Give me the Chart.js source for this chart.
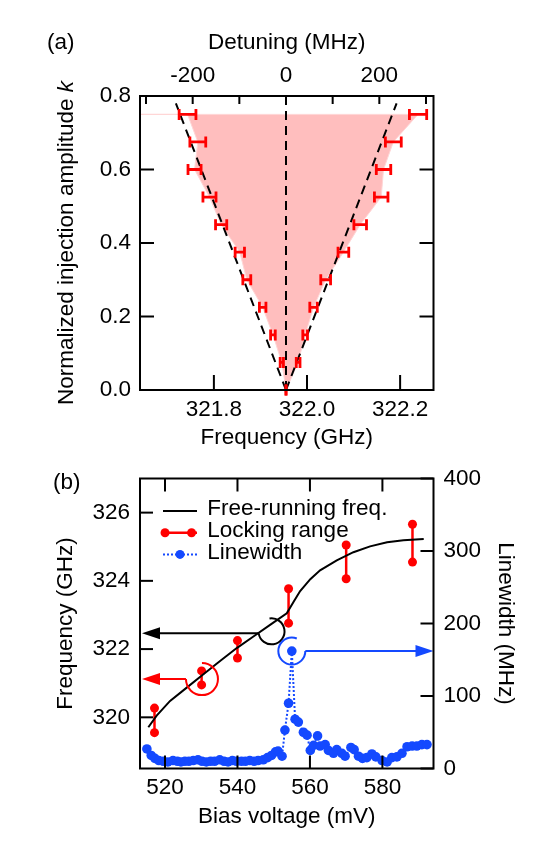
<!DOCTYPE html>
<html>
<head>
<meta charset="utf-8">
<script src="https://cdn.jsdelivr.net/npm/chart.js@4.4.1/dist/chart.umd.min.js"></script>
<style>
  body { margin: 0; background: #fff; }
  #wrap { position: relative; width: 545px; height: 859px; }
  canvas { position: absolute; left: 0; }
  #chartA { top: 0; }
  #chartB { top: 455px; }
  .tag { position: absolute; font: 22.5px/27px 'Liberation Sans', Arial, sans-serif; color: #000; }
</style>
</head>
<body>
<div id="wrap">
  <canvas id="chartA" width="545" height="455"></canvas>
  <canvas id="chartB" width="545" height="404"></canvas>
  <div class="tag" style="left:47px;top:28px">(a)</div>
  <div class="tag" style="left:53px;top:468px">(b)</div>
</div>
<script>
const FONT = "'Liberation Sans', Arial, Helvetica, sans-serif";
Chart.defaults.font.family = FONT;
Chart.defaults.font.size = 22.5;
Chart.defaults.color = '#000';

const RED = '#ff0000';
const BLUE = '#1449ff';
const PINK = '#ffbebe';

// ---- (a) locking range vs injection amplitude ----
const kLevels = [0, 0.075, 0.15, 0.225, 0.3, 0.375, 0.45, 0.525, 0.6, 0.675, 0.75];
const leftDetuning = [0, -9, -28, -50, -84, -99, -139, -164, -196, -189, -211];
const leftErr = [0, 3.5, 5, 7, 8.5, 10, 12, 14, 14, 17, 18];
const rightDetuning = [0, 26, 41, 59, 85, 123, 159, 204, 209, 230, 283];
const rightErr = [0, 4, 5, 8, 10.5, 11.5, 13.5, 14.5, 15.5, 17, 18.5];
const theoryLeft = [[0, 0], [-236, 0.78]];
const theoryRight = [[0, 0], [237, 0.78]];
const centerLine = [[0, 0], [0, 0.8]];

const freqTicks = [321.8, 322.0, 322.2];
const detuningTicks = [-300, -200, -100, 0, 100, 200, 300];
const kTicks = [0, 0.2, 0.4, 0.6, 0.8];
const freqMin = 321.6413, freqMax = 322.2717;
const detMin = -312.9, detMax = 316.1;
const yTitleA = ['Normalized injection amplitude ', 'k'];

// ---- (b) bias sweep ----
const freeVolt = [515.4, 517.7, 521.4, 526.0, 530.6, 535.2, 539.8, 544.4, 549.0, 553.6, 555.5, 557.3, 560.1, 562.8, 567.4, 572.0, 576.6, 581.3, 585.8, 591.4];
const freeFreq = [319.71, 320.05, 320.48, 320.87, 321.26, 321.65, 322.03, 322.37, 322.71, 323.05, 323.39, 323.70, 324.05, 324.31, 324.60, 324.84, 325.01, 325.13, 325.19, 325.23];

const lockVolt = [517.1, 530.1, 540.0, 554.1, 570.0, 588.3];
const lockHigh = [320.27, 321.36, 322.25, 323.77, 325.05, 325.66];
const lockLow = [319.55, 320.95, 321.74, 322.76, 324.06, 324.55];

const lwVolt = [515.0, 516.2, 517.2, 518.3, 519.5, 520.8, 522.2, 523.4, 524.4, 525.5, 526.6, 527.8, 529.1, 530.2, 531.4, 532.6, 533.7, 535.1, 536.3, 537.4, 538.6, 539.7, 541.1, 542.2, 543.4, 544.6, 545.7, 547.1, 548.3, 549.4, 550.5, 551.2, 552.3, 553.1, 554.1, 555.0, 555.9, 556.8, 558.2, 559.2, 560.1, 561.0, 562.1, 562.8, 564.2, 565.1, 566.5, 567.4, 568.8, 569.7, 571.3, 572.2, 573.4, 574.5, 575.7, 577.1, 578.2, 579.9, 581.3, 582.6, 584.0, 585.4, 586.8, 588.2, 589.5, 590.9, 592.3];
const lwValue = [27, 18, 14, 11, 10, 9, 11, 10, 9, 10, 10, 11, 12, 10, 9, 10, 10, 12, 10, 9, 11, 10, 10, 10, 11, 10, 11, 12, 15, 18, 23, 24, 17, 53, 90, 162, 68, 64, 50, 46, 25, 32, 45, 31, 33, 25, 21, 26, 21, 17, 29, 26, 17, 14, 15, 20, 16, 11, 9, 15, 16, 21, 30, 31, 31, 33, 33];

const voltTicks = [520, 540, 560, 580];
const bFreqTicks = [320, 322, 324, 326];
const lwTicks = [0, 100, 200, 300, 400];

// circles with arrows pointing at the axis each curve belongs to
const callouts = [
  {axis: 'y', v: 549.4, val: 322.52, r: 13, color: '#000', start: -0.55, end: 0.95, side: 'left', dy: 2},
  {axis: 'y', v: 530.2, val: 321.12, r: 16, color: RED, start: -0.5, end: 1.0, side: 'left', dy: 0},
  {axis: 'y2', v: 555.0, val: 162, r: 13.5, color: BLUE, start: 0, end: 1.62, side: 'right', dy: 0},
];

const pts = arr => arr.map(p => ({x: p[0], y: p[1]}));
const setTicks = list => s => { s.ticks = list.map(v => ({value: v})); };
const plainGrid = {display: false, drawTicks: false};
const noBorder = {display: false};

// box + inward ticks
function framePlugin(marks) {
  return {
    id: 'frame',
    afterDraw(chart) {
      const {ctx, chartArea: a} = chart;
      ctx.save();
      ctx.strokeStyle = '#000';
      ctx.lineWidth = 2;
      ctx.strokeRect(a.left, a.top, a.right - a.left, a.bottom - a.top);
      marks.forEach(m => {
        const s = chart.scales[m.scale];
        s.ticks.forEach(t => {
          const p = s.getPixelForValue(t.value);
          ctx.beginPath();
          if (m.side === 'left') { ctx.moveTo(a.left, p); ctx.lineTo(a.left + m.len, p); }
          if (m.side === 'right') { ctx.moveTo(a.right, p); ctx.lineTo(a.right - m.len, p); }
          if (m.side === 'bottom') { ctx.moveTo(p, a.bottom); ctx.lineTo(p, a.bottom - m.len); }
          if (m.side === 'top') { ctx.moveTo(p, a.top); ctx.lineTo(p, a.top + m.len); }
          ctx.stroke();
        });
      });
      ctx.restore();
    }
  };
}

const errorBarPlugin = {
  id: 'errorBars',
  afterDatasetsDraw(chart) {
    const {ctx} = chart;
    const xs = chart.scales.x2, ys = chart.scales.y;
    ctx.save();
    ctx.strokeStyle = RED;
    ctx.lineWidth = 2.8;
    [[leftDetuning, leftErr], [rightDetuning, rightErr]].forEach(([xv, ev]) => {
      kLevels.forEach((k, i) => {
        const y = ys.getPixelForValue(k);
        const x0 = xs.getPixelForValue(xv[i] - ev[i]);
        const x1 = xs.getPixelForValue(xv[i] + ev[i]);
        ctx.beginPath();
        ctx.moveTo(x0, y); ctx.lineTo(x1, y);
        ctx.moveTo(x0, y - 5.5); ctx.lineTo(x0, y + 5.5);
        ctx.moveTo(x1, y - 5.5); ctx.lineTo(x1, y + 5.5);
        ctx.stroke();
      });
    });
    ctx.restore();
  }
};

const kTitlePlugin = {
  id: 'kTitle',
  afterDraw(chart) {
    const {ctx, chartArea: a} = chart;
    const plain = '22.5px ' + FONT, ital = 'italic 22.5px ' + FONT;
    ctx.save();
    ctx.translate(66.5, (a.top + a.bottom) / 2);
    ctx.rotate(-Math.PI / 2);
    ctx.fillStyle = '#000';
    ctx.textBaseline = 'middle';
    ctx.font = plain;
    const w1 = ctx.measureText(yTitleA[0]).width;
    ctx.font = ital;
    const w2 = ctx.measureText(yTitleA[1]).width;
    const x = -(w1 + w2) / 2;
    ctx.font = plain;
    ctx.fillText(yTitleA[0], x, 0);
    ctx.font = ital;
    ctx.fillText(yTitleA[1], x + w1, 0);
    ctx.restore();
  }
};

const lockShape = [{x: detMin, y: kLevels[kLevels.length - 1]}]
  .concat(kLevels.map((k, i) => ({x: leftDetuning[i], y: k})).reverse())
  .concat(kLevels.map((k, i) => ({x: rightDetuning[i], y: k})));
lockShape.push(lockShape[0]);

const dashed = data => ({
  data: pts(data), showLine: true, xAxisID: 'x2', yAxisID: 'y',
  borderColor: '#000', borderWidth: 2, borderDash: [9, 6], pointRadius: 0, fill: false
});

new Chart(document.getElementById('chartA'), {
  type: 'scatter',
  data: {
    datasets: [
      dashed(theoryLeft),
      dashed(theoryRight),
      dashed(centerLine),
      {
        data: lockShape, showLine: true, xAxisID: 'x2', yAxisID: 'y',
        borderColor: '#ffd6d6', borderWidth: 1, pointRadius: 0,
        backgroundColor: PINK, fill: 'shape'
      }
    ]
  },
  options: {
    responsive: false,
    animation: false,
    layout: {padding: {left: 0, right: 111.5, top: 0, bottom: 0}, autoPadding: false},
    plugins: {legend: {display: false}, tooltip: {enabled: false}},
    scales: {
      x: {
        type: 'linear', position: 'bottom', min: freqMin, max: freqMax, bounds: 'data',
        afterBuildTicks: setTicks(freqTicks),
        afterFit: s => { s.height = 65; },
        grid: plainGrid, border: noBorder,
        ticks: {padding: 6, maxRotation: 0, autoSkip: false, callback: v => v.toFixed(1)},
        title: {display: true, text: 'Frequency (GHz)', padding: {top: 0, bottom: 3.5}}
      },
      x2: {
        type: 'linear', position: 'top', min: detMin, max: detMax, bounds: 'data',
        afterBuildTicks: setTicks(detuningTicks),
        afterFit: s => { s.height = 96; },
        grid: plainGrid, border: noBorder,
        ticks: {padding: 6.7, maxRotation: 0, autoSkip: false, callback: v => (v % 200 === 0 ? String(v) : '')},
        title: {display: true, text: 'Detuning (MHz)', padding: {top: 29.5, bottom: 0}}
      },
      y: {
        type: 'linear', position: 'left', min: 0, max: 0.8, bounds: 'data',
        afterBuildTicks: setTicks(kTicks),
        afterFit: s => { s.width = 140; },
        grid: plainGrid, border: noBorder,
        ticks: {padding: 9, autoSkip: false, callback: v => v.toFixed(1)},
        title: {display: false}
      }
    }
  },
  plugins: [errorBarPlugin, kTitlePlugin, framePlugin([
    {scale: 'y', side: 'left', len: 14},
    {scale: 'y', side: 'right', len: 14},
    {scale: 'x', side: 'bottom', len: 15},
    {scale: 'x2', side: 'top', len: 8}
  ])]
});

// ---- panel (b) ----
const lockPoints = [];
lockVolt.forEach((v, i) => {
  lockPoints.push({x: v, y: lockHigh[i]}, {x: v, y: lockLow[i]}, {x: v, y: null});
});

const legendPlugin = {
  id: 'boxLegend',
  afterDraw(chart) {
    const {ctx, chartArea: a} = chart;
    const ds = chart.data.datasets;
    ctx.save();
    ctx.font = '22.5px ' + FONT;
    ctx.fillStyle = '#000';
    ctx.textBaseline = 'middle';
    ds.forEach((d, i) => {
      const y = a.top + 30.5 + i * 21.7;
      const x0 = a.left + 23, x1 = a.left + 57;
      ctx.strokeStyle = d.borderColor;
      ctx.lineWidth = d.borderWidth;
      ctx.setLineDash(d.borderDash || []);
      ctx.beginPath();
      ctx.moveTo(x0, y + 2); ctx.lineTo(x1, y + 2);
      ctx.stroke();
      ctx.setLineDash([]);
      ctx.fillStyle = d.borderColor;
      if (d.legendDots) {
        d.legendDots.forEach(f => {
          ctx.beginPath();
          ctx.arc(x0 + (x1 - x0) * f, y + 2, 4.5, 0, Math.PI * 2);
          ctx.fill();
        });
      }
      ctx.fillStyle = '#000';
      ctx.fillText(d.label, a.left + 67.3, y);
    });
    ctx.restore();
  }
};

const calloutPlugin = {
  id: 'callouts',
  afterDatasetsDraw(chart) {
    const {ctx, chartArea: a, scales} = chart;
    ctx.save();
    ctx.lineWidth = 2;
    callouts.forEach(c => {
      const cx = scales.x.getPixelForValue(c.v);
      const cy = scales[c.axis].getPixelForValue(c.val);
      ctx.strokeStyle = c.color;
      ctx.fillStyle = c.color;
      ctx.beginPath();
      ctx.arc(cx, cy, c.r, c.start * Math.PI, c.end * Math.PI);
      ctx.stroke();
      const ay = cy + c.dy;
      const from = c.side === 'left' ? cx - c.r : cx + c.r;
      const tip = c.side === 'left' ? a.left + 2 : a.right;
      const dir = c.side === 'left' ? 1 : -1;
      ctx.beginPath();
      ctx.moveTo(from, ay); ctx.lineTo(tip + dir * 10, ay);
      ctx.stroke();
      ctx.beginPath();
      ctx.moveTo(tip, ay);
      ctx.lineTo(tip + dir * 18, ay - 6);
      ctx.lineTo(tip + dir * 18, ay + 6);
      ctx.closePath();
      ctx.fill();
    });
    ctx.restore();
  }
};

new Chart(document.getElementById('chartB'), {
  type: 'scatter',
  data: {
    datasets: [
      {
        label: 'Free-running freq.',
        data: freeVolt.map((v, i) => ({x: v, y: freeFreq[i]})),
        showLine: true, yAxisID: 'y', borderColor: '#000', borderWidth: 2, pointRadius: 0
      },
      {
        label: 'Locking range',
        data: lockPoints, showLine: true, spanGaps: false, yAxisID: 'y',
        borderColor: RED, borderWidth: 2.5, pointRadius: 4.5, pointBorderWidth: 0,
        pointBackgroundColor: RED, legendDots: [0.06, 0.84]
      },
      {
        label: 'Linewidth',
        data: lwVolt.map((v, i) => ({x: v, y: lwValue[i]})),
        showLine: true, yAxisID: 'y2', borderColor: BLUE, borderWidth: 2, borderDash: [2, 2],
        pointRadius: 4.8, pointBorderWidth: 0, pointBackgroundColor: BLUE, legendDots: [0.5]
      }
    ]
  },
  options: {
    responsive: false,
    animation: false,
    layout: {padding: {left: 0, right: 0, top: 20.5, bottom: 0}, autoPadding: false},
    plugins: {legend: {display: false}, tooltip: {enabled: false}},
    scales: {
      x: {
        type: 'linear', position: 'bottom', min: 513.1, max: 594.1, bounds: 'data',
        afterBuildTicks: setTicks(voltTicks),
        afterFit: s => { s.height = 90.5; },
        grid: plainGrid, border: noBorder,
        ticks: {padding: 5.5, maxRotation: 0, autoSkip: false},
        title: {display: true, text: 'Bias voltage (mV)', padding: {top: 0, bottom: 28.8}}
      },
      y: {
        type: 'linear', position: 'left', min: 318.5, max: 327, bounds: 'data',
        afterBuildTicks: setTicks(bFreqTicks),
        afterFit: s => { s.width = 140; },
        grid: plainGrid, border: noBorder,
        ticks: {padding: 10, autoSkip: false},
        title: {display: true, text: 'Frequency (GHz)', padding: {top: 52, bottom: 0}}
      },
      y2: {
        type: 'linear', position: 'right', min: 0, max: 400, bounds: 'data',
        afterBuildTicks: setTicks(lwTicks),
        afterFit: s => { s.width = 111.5; },
        grid: plainGrid, border: noBorder,
        ticks: {padding: 10, autoSkip: false},
        title: {display: true, text: 'Linewidth (MHz)', padding: {top: 26.5, bottom: 0}}
      }
    }
  },
  plugins: [calloutPlugin, legendPlugin, framePlugin([
    {scale: 'y', side: 'left', len: 13},
    {scale: 'y2', side: 'right', len: 13},
    {scale: 'x', side: 'bottom', len: 13},
    {scale: 'x', side: 'top', len: 13}
  ])]
});
</script>
</body>
</html>
